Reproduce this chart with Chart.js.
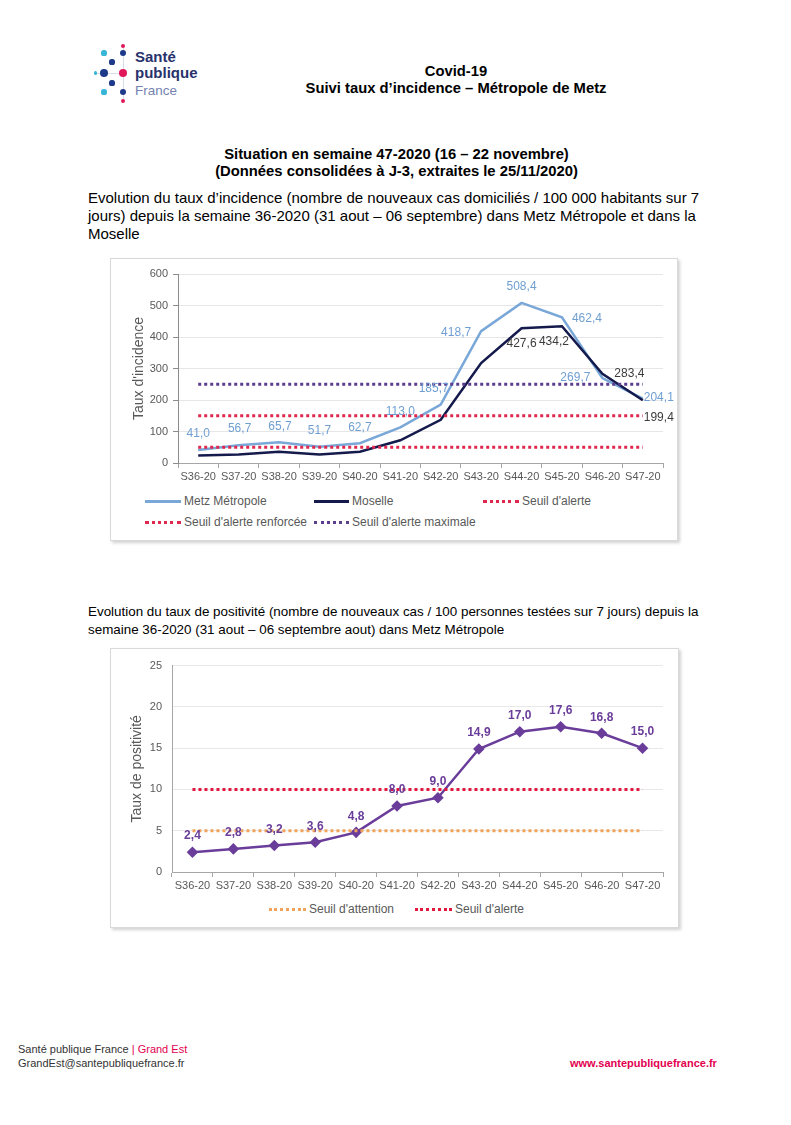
<!DOCTYPE html>
<html lang="fr">
<head>
<meta charset="utf-8">
<title>Suivi taux d'incidence – Métropole de Metz</title>
<script src="https://cdn.jsdelivr.net/npm/chart.js@4.4.1/dist/chart.umd.min.js"></script>
<style>
    body { margin: 0; background: #fff; font-family: "Liberation Sans", Arial, sans-serif; color: #000; }
    #page { position: relative; width: 791px; height: 1125px; overflow: hidden; }
    .abs { position: absolute; white-space: nowrap; }
    .dot { position: absolute; border-radius: 50%; }
    .box { position: absolute; background: #fff; border: 1px solid #d9d9d9; box-shadow: 2px 2px 3px rgba(0,0,0,0.18); }
    .box canvas { position: absolute; left: 0; top: 0; }
    .lg { position: absolute; font-size: 12px; color: #595959; line-height: 14px; white-space: nowrap; }
    .lg .sample { display: inline-block; vertical-align: middle; margin-right: 3px; }
    .para { position: absolute; left: 88px; white-space: nowrap; }
    .foot { position: absolute; font-family: "Liberation Sans Narrow", "Liberation Sans", Arial, sans-serif; font-size: 11px; line-height: 14px; white-space: nowrap; color: #333; }
</style>
</head>
<body>
<div id="page">
    <!-- logo -->
    <div id="logo"></div>
    <div class="abs" style="left:135px;top:48px;font-size:15px;font-weight:bold;color:#28326b;line-height:18px">Santé</div>
    <div class="abs" style="left:135px;top:64px;font-size:15px;font-weight:bold;color:#28326b;line-height:18px">publique</div>
    <div class="abs" style="left:135px;top:82px;font-size:13.5px;color:#7482b0;line-height:18px">France</div>

    <div class="abs" style="left:256px;width:400px;text-align:center;top:63px;font-size:14.8px;font-weight:bold;line-height:17px">Covid-19<br>Suivi taux d’incidence – Métropole de Metz</div>

    <div class="abs" style="left:0;width:793px;text-align:center;top:146px;font-size:14.8px;font-weight:bold;line-height:16.5px">Situation en semaine 47-2020 (16 – 22 novembre)<br>(Données consolidées à J-3, extraites le 25/11/2020)</div>

    <div class="para" style="top:189px;font-size:15px;line-height:18px">Evolution du taux d’incidence (nombre de nouveaux cas domiciliés / 100 000 habitants sur 7<br>jours) depuis la semaine 36-2020 (31 aout – 06 septembre) dans Metz Métropole et dans la<br>Moselle</div>

    <div class="box" id="box1" style="left:110px;top:258px;width:566px;height:281px">
        <canvas id="incChart"></canvas>
    </div>

    <div class="para" style="top:603px;font-size:13.4px;line-height:18px">Evolution du taux de positivité (nombre de nouveaux cas / 100 personnes testées sur 7 jours) depuis la<br>semaine 36-2020 (31 aout – 06 septembre aout) dans Metz Métropole</div>

    <div class="box" id="box2" style="left:110px;top:648px;width:567px;height:278px">
        <canvas id="posChart"></canvas>
    </div>

    <div class="foot" style="left:18px;top:1042px">Santé publique France <span style="color:#e2004f">| Grand Est</span><br>GrandEst@santepubliquefrance.fr</div>
    <div class="foot" style="left:570px;top:1056px;color:#e2004f;font-weight:bold">www.santepubliquefrance.fr</div>
</div>

<script>
// --- données ---
const semaines = ['S36-20','S37-20','S38-20','S39-20','S40-20','S41-20','S42-20','S43-20','S44-20','S45-20','S46-20','S47-20'];

const metzIncidence    = [41.0, 56.7, 65.7, 51.7, 62.7, 113.0, 185.7, 418.7, 508.4, 462.4, 269.7, 204.1];
const moselleIncidence = [24, 27, 36, 27, 36, 72, 137, 317, 427.6, 434.2, 283.4, 199.4];
const seuilAlerte      = [50, 50, 50, 50, 50, 50, 50, 50, 50, 50, 50, 50];
const seuilRenforce    = [150, 150, 150, 150, 150, 150, 150, 150, 150, 150, 150, 150];
const seuilMaximal     = [250, 250, 250, 250, 250, 250, 250, 250, 250, 250, 250, 250];

const tauxPositivite   = [2.4, 2.8, 3.2, 3.6, 4.8, 8.0, 9.0, 14.9, 17.0, 17.6, 16.8, 15.0];
const seuilAttention   = [5, 5, 5, 5, 5, 5, 5, 5, 5, 5, 5, 5];
const seuilAlertePos   = [10, 10, 10, 10, 10, 10, 10, 10, 10, 10, 10, 10];

// position des étiquettes (décalage en px par rapport au point, null = pas d'étiquette)
const metzLabelPos    = [[0,-16],[1,-16],[1,-16],[0,-16],[0,-16],[0,-16],[-7,-16],[-25,2],[0,-16],[25,1],[-27,0],[16,-1]];
const moselleLabelPos = [null,null,null,null,null,null,null,null,[0,15],[-8,15],[27,0],[16,17]];
const posLabelPos     = [[0,-16],[0,-16],[0,-16],[0,-16],[0,-16],[0,-16],[0,-16],[0,-16],[0,-16],[0,-16],[0,-16],[0,-16]];

const fmt = v => v.toFixed(1).replace('.', ',');
const FONT = '"Liberation Sans", Arial, sans-serif';
Chart.defaults.font.family = FONT;
Chart.defaults.animation = false;

// logo Santé publique France
const logoDots = [
    [123, 46, 2, '#e0185a'], [123, 53, 3.2, '#1d3a8a'], [104, 53, 2.6, '#38b6d8'],
    [112, 62, 2.6, '#1d3a8a'], [95.5, 73, 1.6, '#38b6d8'], [104, 73, 4.2, '#1d3a8a'],
    [123, 73, 4.2, '#e0185a'], [112, 83, 2.6, '#1d3a8a'], [104, 92, 2.6, '#38b6d8'],
    [123, 92, 3.2, '#1d3a8a'], [123, 101, 2, '#e0185a']
];
document.getElementById('logo').innerHTML =
    '<div class="abs" style="left:122.5px;top:46px;width:1px;height:55px;background:#d8dbe8"></div>' +
    '<div class="abs" style="left:95px;top:72.5px;width:28px;height:1px;background:#d8dbe8"></div>' +
    logoDots.map(([x, y, r, c]) =>
        `<div class="dot" style="left:${x - r}px;top:${y - r}px;width:${r * 2}px;height:${r * 2}px;background:${c}"></div>`).join('');

const valueLabels = {
    id: 'valueLabels',
    afterDatasetsDraw(chart) {
        const ctx = chart.ctx;
        chart.data.datasets.forEach((ds, di) => {
            if (!ds.labelPos) return;
            const meta = chart.getDatasetMeta(di);
            ctx.save();
            ctx.font = ds.labelFont;
            ctx.fillStyle = ds.labelColor;
            ctx.textAlign = 'center';
            ctx.textBaseline = 'middle';
            meta.data.forEach((pt, i) => {
                const off = ds.labelPos[i];
                if (!off) return;
                ctx.fillText(fmt(ds.data[i]), pt.x + off[0], pt.y + off[1]);
            });
            ctx.restore();
        });
    }
};

function sizeCanvas(id, w, h) {
    const c = document.getElementById(id);
    c.style.width = w + 'px';
    c.style.height = h + 'px';
    c.width = w; c.height = h;
    return c;
}

function addLegend(boxId, chart, items) {
    const box = document.getElementById(boxId);
    items.forEach(it => {
        const ds = chart.data.datasets[it.ds];
        const el = document.createElement('div');
        el.className = 'lg';
        el.style.left = it.x + 'px';
        el.style.top = (it.y - 7) + 'px';
        const sample = ds.borderDash
            ? `<span class="sample" style="width:${it.w}px;border-top:3px dotted ${ds.borderColor}"></span>`
            : `<span class="sample" style="width:${it.w}px;height:3px;background:${ds.borderColor}"></span>`;
        el.innerHTML = sample + ds.label;
        box.appendChild(el);
    });
}

const tickFont = { size: 11 };
const tickColor = '#595959';

// --- graphique 1 : taux d'incidence ---
const chart1 = new Chart(sizeCanvas('incChart', 566, 231), {
    type: 'line',
    data: {
        labels: semaines,
        datasets: [
            { label: 'Metz Métropole', data: metzIncidence, borderColor: '#79a7d8', borderWidth: 2.5, pointRadius: 0, order: 3,
              labelPos: metzLabelPos, labelColor: '#6f9fd2', labelFont: '12px ' + FONT },
            { label: 'Moselle', data: moselleIncidence, borderColor: '#151a4d', borderWidth: 2.5, pointRadius: 0, order: 2,
              labelPos: moselleLabelPos, labelColor: '#3c3c3c', labelFont: '12px ' + FONT },
            { label: "Seuil d'alerte", data: seuilAlerte, borderColor: '#e0284f', borderWidth: 3, borderDash: [3, 3], pointRadius: 0, order: 1 },
            { label: "Seuil d'alerte renforcée", data: seuilRenforce, borderColor: '#e0284f', borderWidth: 3, borderDash: [3, 3], pointRadius: 0, order: 1 },
            { label: "Seuil d'alerte maximale", data: seuilMaximal, borderColor: '#5b3d8f', borderWidth: 3, borderDash: [3, 3], pointRadius: 0, order: 1 }
        ]
    },
    options: {
        responsive: false,
        layout: { padding: { left: 0, right: 14, top: 15, bottom: 0 } },
        plugins: { legend: { display: false }, tooltip: { enabled: false } },
        scales: {
            x: {
                offset: true,
                grid: { offset: true, drawOnChartArea: false, tickLength: 5, color: '#a6a6a6' },
                border: { color: '#a6a6a6' },
                ticks: { color: tickColor, font: tickFont, padding: 2, maxRotation: 0, autoSkip: false },
                afterFit: s => { s.height = 27; }
            },
            y: {
                min: 0, max: 600,
                ticks: { stepSize: 50, color: tickColor, font: tickFont, padding: 5, callback: v => v % 100 === 0 ? v : '' },
                grid: { color: c => c.tick && c.tick.value % 100 === 0 ? '#e6e6e6' : 'rgba(0,0,0,0)', tickColor: '#8c8c8c', tickLength: 5 },
                border: { color: '#8c8c8c' },
                title: { display: true, text: "Taux d'incidence", color: tickColor, font: { size: 14 }, padding: { top: 20, bottom: 0 } },
                afterFit: s => { s.width = 67; }
            }
        }
    },
    plugins: [valueLabels]
});

addLegend('box1', chart1, [
    { ds: 0, x: 34, y: 242, w: 36 },
    { ds: 1, x: 203, y: 242, w: 35 },
    { ds: 2, x: 372, y: 242, w: 36 },
    { ds: 3, x: 34, y: 263, w: 36 },
    { ds: 4, x: 203, y: 263, w: 35 }
]);

// --- graphique 2 : taux de positivité ---
const chart2 = new Chart(sizeCanvas('posChart', 567, 250), {
    type: 'line',
    data: {
        labels: semaines,
        datasets: [
            { label: 'Taux de positivité', data: tauxPositivite, borderColor: '#6a3d9a', backgroundColor: '#6a3d9a', borderWidth: 2.5,
              pointStyle: 'rectRot', pointRadius: 4, order: 2,
              labelPos: posLabelPos, labelColor: '#6a3d9a', labelFont: 'bold 12px ' + FONT },
            { label: "Seuil d'attention", data: seuilAttention, borderColor: '#f0a35a', borderWidth: 3, borderDash: [3, 3], pointRadius: 0, order: 1 },
            { label: "Seuil d'alerte", data: seuilAlertePos, borderColor: '#e3173e', borderWidth: 3, borderDash: [3, 3], pointRadius: 0, order: 1 }
        ]
    },
    options: {
        responsive: false,
        layout: { padding: { left: 0, right: 15, top: 16, bottom: 0 } },
        plugins: { legend: { display: false }, tooltip: { enabled: false } },
        scales: {
            x: {
                offset: true,
                grid: { offset: true, drawOnChartArea: false, tickLength: 5, color: '#a6a6a6' },
                border: { color: '#a6a6a6' },
                ticks: { color: tickColor, font: tickFont, padding: 2, maxRotation: 0, autoSkip: false },
                afterFit: s => { s.height = 27; }
            },
            y: {
                min: 0, max: 25,
                ticks: { stepSize: 5, color: tickColor, font: tickFont, padding: 10 },
                grid: { color: '#e8e8e8', drawTicks: false },
                border: { color: '#a6a6a6' },
                title: { display: true, text: 'Taux de positivité', color: tickColor, font: { size: 14 }, padding: { top: 18, bottom: 0 } },
                afterFit: s => { s.width = 61; }
            }
        }
    },
    plugins: [valueLabels]
});

addLegend('box2', chart2, [
    { ds: 1, x: 158, y: 260, w: 37 },
    { ds: 2, x: 304, y: 260, w: 37 }
]);
</script>
</body>
</html>
